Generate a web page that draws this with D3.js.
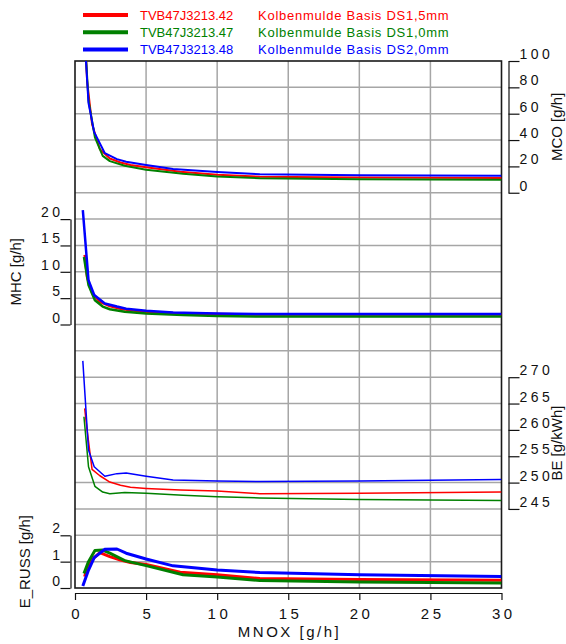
<!DOCTYPE html>
<html>
<head>
<meta charset="utf-8">
<script src="https://cdn.jsdelivr.net/npm/d3@7"></script>
<style>
body { margin: 0; background: #fff; }
text { font-family: "Liberation Sans", Arial, sans-serif; }
</style>
</head>
<body>
<div id="chart"></div>
<script>

// TVB47J3213.42  Kolbenmulde Basis DS1,5mm
var mnox_42 = [0.68, 0.85, 1.2, 1.75, 2.45, 3.2, 3.9, 5.0, 7.4, 10, 13, 20, 30];
var mco_42  = [125, 85, 52, 33, 26, 23, 21, 19.3, 16, 13.7, 12.2, 11.6, 11.2];
var mhc_42  = [13.2, 9, 6, 4.3, 3.5, 3.0, 2.7, 2.4, 2.1, 2.0, 1.9, 1.9, 1.9];
var be_42   = [264.1, 260, 252.5, 251.3, 250.1, 249.5, 249.1, 248.9, 248.6, 248.4, 247.9, 248.0, 248.2];
var russ_42 = [0.43, 0.75, 1.08, 1.34, 1.19, 1.06, 0.97, 0.89, 0.6, 0.5, 0.36, 0.32, 0.29];

// TVB47J3213.47  Kolbenmulde Basis DS1,0mm
var mnox_47 = [0.63, 0.95, 1.4, 1.95, 2.45, 3.5, 5.0, 7.6, 10, 13, 20, 30];
var mco_47  = [130, 70, 42, 28, 24, 20.5, 17.5, 14.5, 12.4, 11.0, 10.3, 9.9];
var mhc_47  = [12.8, 7.5, 4.6, 3.4, 2.9, 2.4, 2.1, 1.8, 1.6, 1.5, 1.5, 1.5];
var be_47   = [262.5, 253, 249.3, 248.2, 247.9, 248.1, 248.0, 247.6, 247.3, 247.1, 246.8, 246.6];
var russ_47 = [0.55, 1.0, 1.42, 1.44, 1.32, 1.04, 0.85, 0.5, 0.42, 0.28, 0.23, 0.19];

// TVB47J3213.48  Kolbenmulde Basis DS2,0mm
var mnox_48 = [0.55, 0.95, 1.35, 2.1, 2.95, 3.6, 5.0, 6.9, 10, 13, 20, 30];
var mco_48  = [140, 68, 46, 30, 25.5, 23.5, 21, 18, 15.7, 14, 13.3, 12.9];
var mhc_48  = [21.7, 8.4, 5.6, 4.0, 3.4, 3.0, 2.6, 2.3, 2.1, 2.0, 2.0, 2.0];
var be_48   = [273.1, 256.2, 253, 251.2, 251.7, 251.8, 251.2, 250.5, 250.3, 250.2, 250.3, 250.6];
var russ_48 = [0.08, 0.68, 1.15, 1.47, 1.48, 1.32, 1.1, 0.84, 0.68, 0.59, 0.5, 0.44];

var mnox_ticks = [0, 5, 10, 15, 20, 25, 30];
var mco_ticks  = [0, 20, 40, 60, 80, 100];
var mhc_ticks  = [0, 5, 10, 15, 20];
var be_ticks   = [245, 250, 255, 260, 265, 270];
var russ_ticks = [0, 1, 2];

var runs = [
    {name: 'TVB47J3213.42', desc: 'Kolbenmulde Basis DS1,5mm', colour: '#ff0000', x: mnox_42, mco: mco_42, mhc: mhc_42, be: be_42, russ: russ_42},
    {name: 'TVB47J3213.47', desc: 'Kolbenmulde Basis DS1,0mm', colour: '#008000', x: mnox_47, mco: mco_47, mhc: mhc_47, be: be_47, russ: russ_47},
    {name: 'TVB47J3213.48', desc: 'Kolbenmulde Basis DS2,0mm', colour: '#0000ff', x: mnox_48, mco: mco_48, mhc: mhc_48, be: be_48, russ: russ_48}
];

var p_left = 75, p_right = 501.5, p_top = 61, p_bottom = 588;
var row = (p_bottom - p_top) / 20;
var fmt = d3.format('d');

// panels sit on rows of the common 20-row grid
var panels = [
    {key: 'mco',  title: 'MCO [g/h]',    domain: [0, 100],   ticks: mco_ticks,  rows: [5, 0],   side: 'right', lw: 2,   tx: 562},
    {key: 'mhc',  title: 'MHC [g/h]',    domain: [0, 20],    ticks: mhc_ticks,  rows: [10, 6],  side: 'left',  lw: 2.5, tx: 21},
    {key: 'be',   title: 'BE [g/kWh]',   domain: [245, 270], ticks: be_ticks,   rows: [17, 12], side: 'right', lw: 1.5, tx: 562},
    {key: 'russ', title: 'E_RUSS [g/h]', domain: [0, 2],     ticks: russ_ticks, rows: [20, 18], side: 'left',  lw: 3,   tx: 30}
];

var svg = d3.select('#chart').append('svg')
    .attr('width', 566)
    .attr('height', 644);

var x = d3.scaleLinear()
    .domain([0, 30])
    .range([p_left, p_right]);

svg.append('clipPath')
    .attr('id', 'clip')
  .append('rect')
    .attr('x', p_left)
    .attr('y', p_top)
    .attr('width', p_right - p_left)
    .attr('height', p_bottom - p_top);

// grid
svg.append('g')
    .selectAll('line')
    .data(d3.range(1, 20))
    .enter()
    .append('line')
        .attr('x1', p_left).attr('x2', p_right)
        .attr('y1', d => p_top + d * row).attr('y2', d => p_top + d * row)
        .attr('stroke', '#a6a6a6')
        .attr('stroke-width', 1.5);

svg.append('g')
    .selectAll('line')
    .data(mnox_ticks.slice(1, -1))
    .enter()
    .append('line')
        .attr('x1', d => x(d)).attr('x2', d => x(d))
        .attr('y1', p_top).attr('y2', p_bottom)
        .attr('stroke', '#a6a6a6')
        .attr('stroke-width', 1.5);

svg.append('rect')
    .attr('x', p_left).attr('y', p_top)
    .attr('width', p_right - p_left).attr('height', p_bottom - p_top)
    .attr('fill', 'none')
    .attr('stroke', '#1a1a1a')
    .attr('stroke-width', 1.6);

panels.forEach(function (p) {
    var y = d3.scaleLinear()
        .domain(p.domain)
        .range([p_top + p.rows[0] * row, p_top + p.rows[1] * row]);

    var ax;
    if (p.side == 'right') {
        ax = svg.append('g')
            .attr('transform', 'translate(508.5,0)')
            .call(d3.axisRight(y).tickValues(p.ticks).tickFormat(fmt).tickSize(11).tickSizeOuter(0).tickPadding(0));
        ax.selectAll('text').attr('x', 11);
    } else {
        ax = svg.append('g')
            .attr('transform', 'translate(70.5,0)')
            .call(d3.axisLeft(y).tickValues(p.ticks).tickFormat(fmt).tickSize(10).tickSizeOuter(0).tickPadding(0));
        ax.selectAll('text').attr('x', -7);
    }
    ax.selectAll('text')
        .attr('dy', '-2.5px')
        .attr('fill', '#111')
        .style('font-size', '14px')
        .style('letter-spacing', '3.5px');
    ax.selectAll('path, line').attr('stroke', '#111').attr('stroke-width', 1.2);
    ax.attr('font-family', null);

    svg.append('text')
        .attr('transform', `translate(${p.tx},${(y.range()[0] + y.range()[1]) / 2}) rotate(-90)`)
        .attr('text-anchor', 'middle')
        .attr('fill', '#111')
        .style('font-size', '15px')
        .text(p.title);

    var line = d3.line()
        .x(d => x(d[0]))
        .y(d => y(d[1]));

    svg.append('g')
        .attr('clip-path', 'url(#clip)')
        .selectAll('path')
        .data(runs)
        .enter()
        .append('path')
            .attr('d', d => line(d3.zip(d.x, d[p.key])))
            .attr('fill', 'none')
            .attr('stroke', d => d.colour)
            .attr('stroke-width', p.lw)
            .attr('stroke-linejoin', 'round');
});

// x axis
var xax = svg.append('g')
    .attr('transform', 'translate(0,593)')
    .call(d3.axisBottom(x).tickValues(mnox_ticks).tickFormat(fmt).tickSize(7).tickSizeOuter(0).tickPadding(8));
xax.selectAll('text')
    .attr('dx', '1.75px')
    .attr('fill', '#111')
    .style('font-size', '15px')
    .style('letter-spacing', '3.5px');
xax.selectAll('path, line').attr('stroke', '#111').attr('stroke-width', 1.2);
xax.attr('font-family', null);

svg.append('text')
    .attr('x', (p_left + p_right) / 2 + 1.25)
    .attr('y', 636.5)
    .attr('text-anchor', 'middle')
    .attr('fill', '#111')
    .style('font-size', '15px')
    .style('letter-spacing', '2.5px')
    .text('MNOX [g/h]');

// legend
var legend = svg.append('g')
    .selectAll('g')
    .data(runs)
    .enter()
    .append('g')
        .attr('transform', (d, i) => `translate(0,${15 + i * 17.2})`);

legend.append('line')
    .attr('x1', 83).attr('x2', 128)
    .attr('stroke', d => d.colour)
    .attr('stroke-width', 4);

legend.append('text')
    .attr('x', 140).attr('y', 4.5)
    .attr('fill', d => d.colour)
    .style('font-size', '13px')
    .text(d => d.name);

legend.append('text')
    .attr('x', 258).attr('y', 4.5)
    .attr('fill', d => d.colour)
    .style('font-size', '13px')
    .style('letter-spacing', '0.75px')
    .text(d => d.desc);

</script>
</body>
</html>
